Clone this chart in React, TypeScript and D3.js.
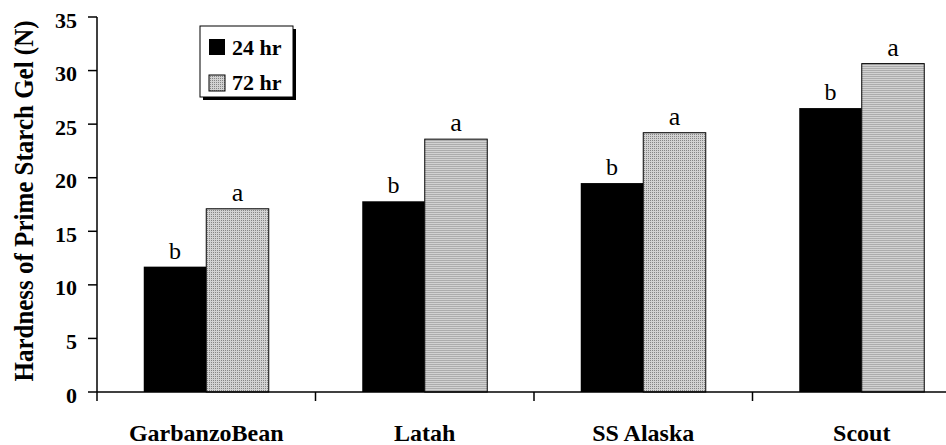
import React from "react";
import * as d3 from "d3";

const categories = ["GarbanzoBean", "Latah", "SS Alaska", "Scout"];
const seriesNames = ["24 hr", "72 hr"];
const values24 = [11.7, 17.8, 19.5, 26.5];
const values72 = [17.1, 23.6, 24.2, 30.65];
const letters24 = ["b", "b", "b", "b"];
const letters72 = ["a", "a", "a", "a"];
const yTicks = [0, 5, 10, 15, 20, 25, 30, 35];

const W = 946;
const H = 445;
const left = 97;
const bottom = 392;

const App = () => {
  const x = d3.scaleBand<string>().domain(categories).range([left, 971]).padding(0);
  const inner = d3
    .scaleBand<string>()
    .domain(seriesNames)
    .range([0, x.bandwidth()])
    .paddingInner(0)
    .paddingOuter(0.748);
  const y = d3.scaleLinear().domain([0, 35]).range([bottom, 17]);

  const rows = categories.map((c, i) => ({
    cat: c,
    vals: [values24[i], values72[i]],
    letters: [letters24[i], letters72[i]],
  }));

  const serifBold = { fontFamily: "'Liberation Serif', serif", fontWeight: 700 };

  return (
    <svg width={W} height={H} style={{ position: "absolute", left: 0, top: 0, background: "#fff" }}>
      <defs>
        <pattern id="stip" width="2" height="2" patternUnits="userSpaceOnUse">
          <rect width="2" height="2" fill="#d2d2d2" />
          <rect width="1" height="1" fill="#858585" />
        </pattern>
      </defs>

      {/* bars */}
      {rows.map((r) => (
        <g key={r.cat} transform={`translate(${x(r.cat)},0)`}>
          {r.vals.map((v, j) => {
            const bx = inner(seriesNames[j])!;
            const bw = inner.bandwidth();
            return (
              <g key={j}>
                <rect
                  x={bx}
                  y={y(v)}
                  width={bw}
                  height={bottom - y(v)}
                  fill={j === 0 ? "#000" : "url(#stip)"}
                  stroke="#000"
                  strokeWidth={j === 0 ? 0 : 1}
                />
                <text
                  x={bx + bw / 2}
                  y={y(v) - 8}
                  textAnchor="middle"
                  fontFamily="'Liberation Serif', serif"
                  fontSize={j === 0 ? 24 : 26}
                  fill="#000"
                >
                  {r.letters[j]}
                </text>
              </g>
            );
          })}
        </g>
      ))}

      {/* y axis */}
      <line x1={left} x2={left} y1={y(35)} y2={bottom} stroke="#000" strokeWidth={1.5} />
      {yTicks.map((t) => (
        <g key={t}>
          <line x1={left - 9} x2={left} y1={y(t)} y2={y(t)} stroke="#000" strokeWidth={1.5} />
          <text x={left - 20} y={y(t) + 10.5} textAnchor="end" fontSize={22} style={serifBold}>
            {t}
          </text>
        </g>
      ))}
      <text
        transform={`translate(33,201) rotate(-90) scale(1,1.1)`}
        textAnchor="middle"
        fontSize={25}
        style={serifBold}
      >
        Hardness of Prime Starch Gel (N)
      </text>

      {/* x axis */}
      <line x1={left} x2={W} y1={bottom} y2={bottom} stroke="#000" strokeWidth={1.5} />
      {categories.map((c) => (
        <line key={c} x1={x(c)!} x2={x(c)!} y1={bottom} y2={bottom + 9} stroke="#000" strokeWidth={1.5} />
      ))}
      {categories.map((c) => (
        <text
          key={c}
          x={x(c)! + x.bandwidth() / 2}
          y={441}
          textAnchor="middle"
          fontSize={24}
          style={serifBold}
        >
          {c}
        </text>
      ))}

      {/* legend */}
      <g>
        <rect x={203} y={29} width={93} height={71} fill="#000" />
        <rect x={200} y={26} width={93} height={71} fill="#fff" stroke="#000" strokeWidth={1} />
        {seriesNames.map((s, i) => (
          <g key={s}>
            <rect
              x={209}
              y={39 + i * 36}
              width={16}
              height={16}
              fill={i === 0 ? "#000" : "url(#stip)"}
              stroke="#000"
              strokeWidth={i === 0 ? 0 : 1}
            />
            <text x={232} y={55 + i * 35} fontSize={22} style={serifBold}>
              {s}
            </text>
          </g>
        ))}
      </g>
    </svg>
  );
};

export default App;
